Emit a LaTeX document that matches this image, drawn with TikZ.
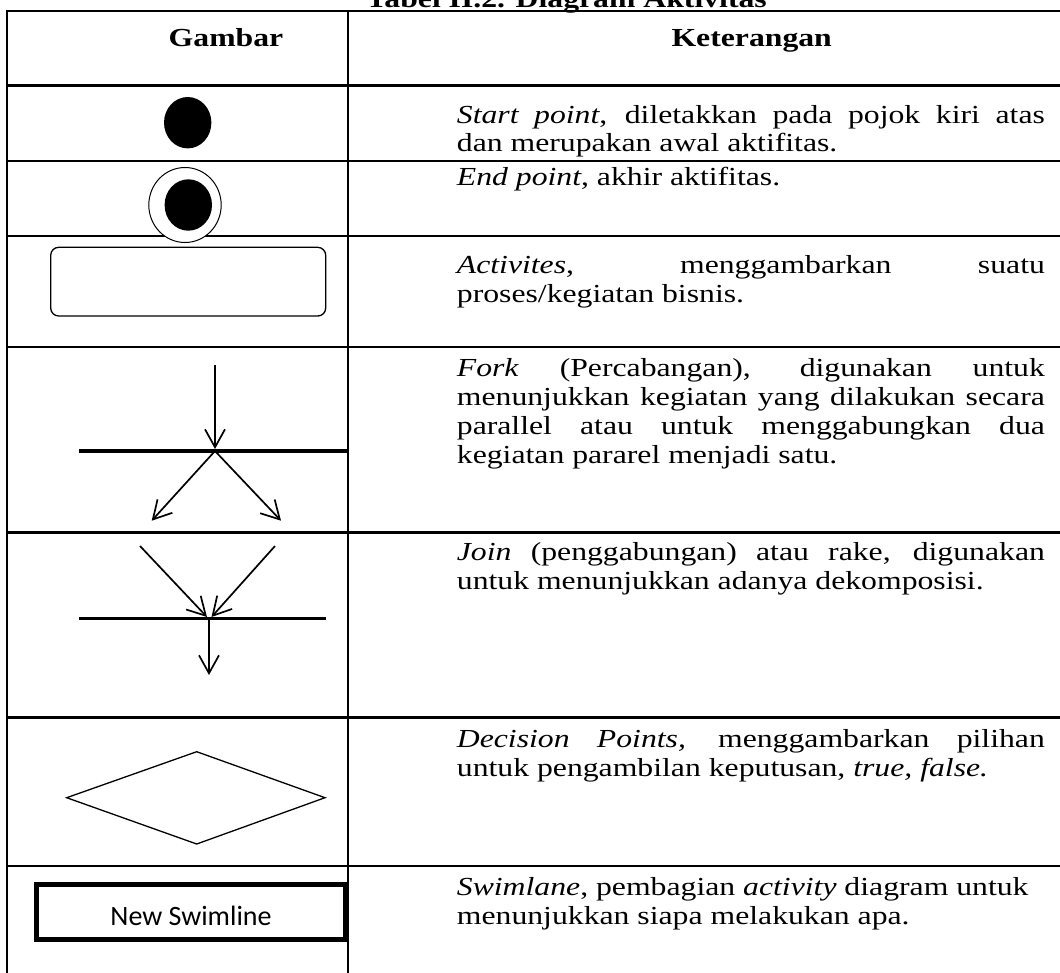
\documentclass[tikz,border=0pt]{standalone}
\usepackage{fontspec}
\setmainfont{Liberation Serif}[FakeStretch=1.22]
\newfontfamily\swimfont{Carlito}
\usetikzlibrary{arrows.meta}
\newcommand\jline[1]{\makebox[588pt][s]{#1}}

\begin{document}
\begin{tikzpicture}[x=1pt,y=-1pt,
  rule/.style={line width=2.7pt},
  body/.style={anchor=base west, inner sep=0pt, font=\fontsize{26}{29}\selectfont},
  head/.style={anchor=base, inner sep=0pt, font=\fontsize{26}{29}\selectfont\bfseries},
  flow/.style={line width=1.7pt, -{Straight Barb[length=18pt,width=20pt,line width=1.7pt]}},
  bar/.style={line width=3.4pt},
  outline/.style={line width=1.3pt}]
\useasboundingbox (0,0) rectangle (1060,972);
\clip (0,0) rectangle (1060,972);

% caption and table grid
\node[head] (title) at (566.5,7) {Tabel II.2. Diagram Aktivitas};
\foreach \yy in {11,85.5,161,236,347,532.5,717.5,866}
  \draw[rule] (7,\yy) -- (1065,\yy);
\draw[rule] (7,9.65) -- (7,975);
\draw[rule] (348,9.65) -- (348,975);

% header
\node[head] (hgambar) at (226,46) {Gambar};
\node[head] (hket) at (751.7,46) {Keterangan};

% start point
\fill (187.7,122.7) ellipse [x radius=23.7, y radius=25.7];
% end point
\draw[line width=1pt, fill=white] (185,205) ellipse [x radius=36.2, y radius=37.5];
\fill (188.3,205) ellipse [x radius=23.7, y radius=25.7];
% activity
\draw[outline, rounded corners=8pt] (50.7,247.3) rectangle (325.7,316);

% fork
\coordinate (fin) at (215,365);
\coordinate (fc) at (215,451);
\coordinate (fl) at (151.7,520.7);
\coordinate (fr) at (281,520.7);
\draw[bar] (79.3,451) -- (348.3,451);
\draw[flow] (fin) -- (215,449);
\draw[flow] (fc) -- (fl);
\draw[flow] (fc) -- (fr);

% join
\coordinate (jl) at (140,546);
\coordinate (jr) at (275,546);
\coordinate (jc) at (209,618.7);
\coordinate (jout) at (209,675);
\draw[bar] (79.3,618.7) -- (325.7,618.7);
\draw[flow] (jl) -- (207,617);
\draw[flow] (jr) -- (211.5,617);
\draw[flow] (jc) -- (jout);

% decision
\draw[outline] (66.7,797.7) -- (196.7,751.7) -- (325,797.7) -- (196.7,844) -- cycle;

% swimlane
\draw[line width=5pt] (36.7,884.3) rectangle (345,939.3);
\node[anchor=base, inner sep=0pt, font=\swimfont\fontsize{28}{30}\selectfont] (swim) at (191,925) {New Swimline};

% descriptions
\node[body] (t1a) at (456.7,123) {\jline{\textit{Start point}, diletakkan pada pojok kiri atas}};
\node[body] (t1b) at (456.7,151) {dan merupakan awal aktifitas.};
\node[body] (t2a) at (456.7,185) {\textit{End point}, akhir aktifitas.};
\node[body] (t3a) at (456.7,273) {\jline{\textit{Activites}, menggambarkan suatu}};
\node[body] (t3b) at (456.7,302) {proses/kegiatan bisnis.};
\node[body] (t4a) at (456.7,376) {\jline{\textit{Fork} (Percabangan), digunakan untuk}};
\node[body] (t4b) at (456.7,405) {\jline{menunjukkan kegiatan yang dilakukan secara}};
\node[body] (t4c) at (456.7,434) {\jline{parallel atau untuk menggabungkan dua}};
\node[body] (t4d) at (456.7,463) {kegiatan pararel menjadi satu.};
\node[body] (t5a) at (456.7,560) {\jline{\textit{Join} (penggabungan) atau rake, digunakan}};
\node[body] (t5b) at (456.7,589) {untuk menunjukkan adanya dekomposisi.};
\node[body] (t6a) at (456.7,747) {\jline{\textit{Decision Points,} menggambarkan pilihan}};
\node[body] (t6b) at (456.7,776) {untuk pengambilan keputusan, \textit{true, false.}};
\node[body] (t7a) at (456.7,895) {\textit{Swimlane}, pembagian \textit{activity} diagram untuk};
\node[body] (t7b) at (456.7,924) {menunjukkan siapa melakukan apa.};
\end{tikzpicture}
\end{document}
